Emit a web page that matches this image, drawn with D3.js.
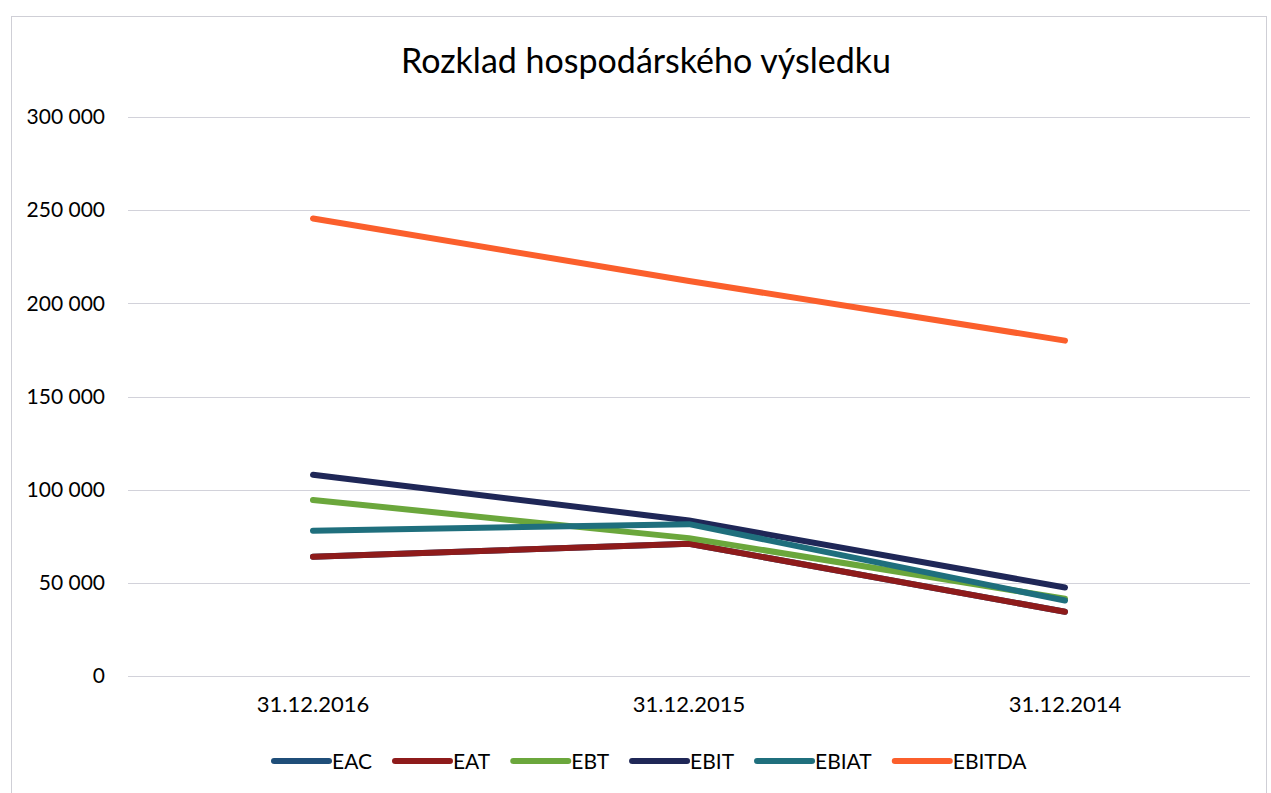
<!DOCTYPE html>
<html><head><meta charset="utf-8">
<script src="https://cdn.jsdelivr.net/npm/d3@7"></script>
<style>
html,body{margin:0;padding:0;background:#fff;}
svg{display:block;font-family:Lato,"Open Sans",sans-serif;}
</style></head>
<body>
<svg id="chart" width="1271" height="793"></svg>
<script>
const categories = ["31.12.2016", "31.12.2015", "31.12.2014"];
const seriesNames = ["EAC", "EAT", "EBT", "EBIT", "EBIAT", "EBITDA"];
const EAC    = [64000, 71000, 34500];
const EAT    = [64000, 71000, 34500];
const EBT    = [94500, 74000, 41500];
const EBIT   = [108000, 83500, 47500];
const EBIAT  = [78000, 81500, 40500];
const EBITDA = [245500, 212000, 180000];
const yTicks = [0, 50000, 100000, 150000, 200000, 250000, 300000];
const colors = ["#1f4e79", "#8e1b1b", "#6ba73c", "#1f2757", "#1f6f7d", "#fb5f2c"];
const title = "Rozklad hospodárského výsledku";

const seriesValues = [EAC, EAT, EBT, EBIT, EBIAT, EBITDA];

const svg = d3.select("#chart");
// chart border
svg.append("rect").attr("x", 11.5).attr("y", 16.5).attr("width", 1255).attr("height", 790)
  .attr("fill", "#fff").attr("stroke", "#cfcfd6").attr("stroke-width", 1);

const x = d3.scaleBand().domain(categories).range([125, 1253]);
const y = d3.scaleLinear().domain([0, 300000]).range([676, 117]);
const fmt = v => d3.format(",")(v).replace(/,/g, " ");

// gridlines
svg.append("g").selectAll("line").data(yTicks).join("line")
  .attr("x1", 128).attr("x2", 1250)
  .attr("y1", d => Math.round(y(d)) + 0.5).attr("y2", d => Math.round(y(d)) + 0.5)
  .attr("stroke", "#d2d2da").attr("stroke-width", 1);

// y axis labels
const yAxis = d3.axisLeft(y).tickValues(yTicks).tickFormat(fmt).tickSize(0).tickPadding(0);
const yg = svg.append("g").attr("transform", "translate(105,0)").call(yAxis);
yg.select(".domain").remove();
yg.selectAll("text").attr("font-size", 21).attr("fill", "#000").attr("font-family", "Lato");

// x axis labels
const xAxis = d3.axisBottom(x).tickSize(0).tickPadding(0);
const xg = svg.append("g").attr("transform", "translate(0,696)").call(xAxis);
xg.select(".domain").remove();
xg.selectAll("text").attr("font-size", 22).attr("fill", "#000").attr("font-family", "Lato");

// lines
const line = d3.line().x((d, i) => x(categories[i]) + x.bandwidth() / 2).y(d => y(d));
svg.append("g").selectAll("path").data(seriesValues).join("path")
  .attr("d", d => line(d))
  .attr("fill", "none")
  .attr("stroke", (d, i) => colors[i])
  .attr("stroke-width", 6)
  .attr("stroke-linecap", "round")
  .attr("stroke-linejoin", "round");

// title
svg.append("text").attr("x", 646).attr("y", 73).attr("text-anchor", "middle")
  .attr("font-size", 34).attr("fill", "#000").text(title);

// legend
const leg = svg.append("g");
let lx = 274;
seriesNames.forEach((name, i) => {
  const g = leg.append("g");
  g.append("line").attr("x1", lx).attr("x2", lx + 55).attr("y1", 761).attr("y2", 761)
    .attr("stroke", colors[i]).attr("stroke-width", 6).attr("stroke-linecap", "round");
  const t = g.append("text").attr("x", lx + 58).attr("y", 769).attr("font-size", 21)
    .attr("fill", "#000").text(name);
  const w = t.node().getComputedTextLength();
  lx += 58 + w + 23;
});
</script>
</body></html>
